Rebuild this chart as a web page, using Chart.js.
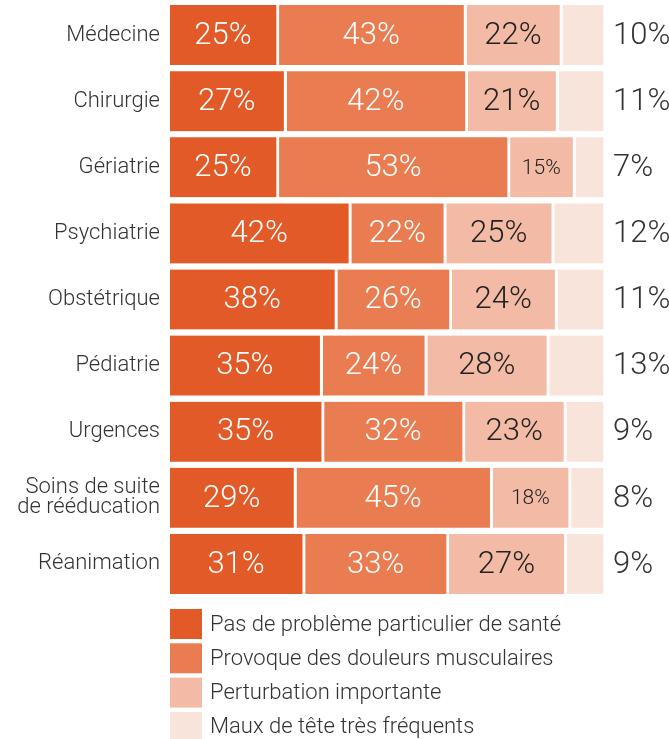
<!DOCTYPE html>
<html lang="fr">
<head>
<meta charset="utf-8">
<title>Santé par service</title>
<script src="https://cdn.jsdelivr.net/npm/chart.js@4/dist/chart.umd.min.js"></script>
<style>
    html, body { margin: 0; padding: 0; background: #fff; }
    canvas { display: block; }
</style>
</head>
<body>
<canvas id="chart" width="669" height="739"></canvas>
<script>
// --- Daten ---
const categories = [
    'Médecine', 'Chirurgie', 'Gériatrie', 'Psychiatrie', 'Obstétrique',
    'Pédiatrie', 'Urgences', ['Soins de suite', 'de rééducation'], 'Réanimation'
];
const seriesNames = [
    'Pas de problème particulier de santé',
    'Provoque des douleurs musculaires',
    'Perturbation importante',
    'Maux de tête très fréquents'
];
const sansProbleme = [25, 27, 25, 42, 38, 35, 35, 29, 31];
const douleurs     = [43, 42, 53, 22, 26, 24, 32, 45, 33];
const perturbation = [22, 21, 15, 25, 24, 28, 23, 18, 27];
const mauxDeTete   = [10, 11, 7, 12, 11, 13, 9, 8, 9];

// --- Farben ---
const colors = ['#e25a27', '#ea7c52', '#f3bba5', '#f9e4dc'];
const labelColors = ['#ffffff', '#ffffff', '#222222', '#333333'];
const FONT = 'Roboto, "Liberation Sans", sans-serif';

const allSeries = [sansProbleme, douleurs, perturbation, mauxDeTete];

// Jede Zeile auf 100 normieren (Summen liegen zwischen 99 und 101)
function rowShares(series) {
    return series.map((v, i) => {
        let total = 0;
        for (let s of allSeries) total += s[i];
        return v / total * 100;
    });
}

const datasets = allSeries.map((s, k) => ({
    label: seriesNames[k],
    data: rowShares(s),
    raw: s,
    backgroundColor: colors[k],
    borderColor: '#ffffff',
    borderWidth: { top: 0, bottom: 0, left: 0, right: 3 },
    borderSkipped: false,
    barThickness: 60
}));

// --- Prozentwerte in / neben die Balken schreiben ---
const valueLabels = {
    id: 'valueLabels',
    afterDatasetsDraw(chart) {
        const ctx = chart.ctx;
        ctx.save();
        ctx.textBaseline = 'middle';
        chart.data.datasets.forEach((ds, k) => {
            const meta = chart.getDatasetMeta(k);
            meta.data.forEach((bar, i) => {
                const v = ds.raw[i];
                let x;
                if (k === 3) {
                    // letzte Reihe steht rechts neben dem Balken
                    ctx.textAlign = 'left';
                    x = chart.chartArea.right + 7;
                } else {
                    ctx.textAlign = 'center';
                    x = (bar.x + bar.base) / 2 - 1.5;
                }
                const size = (k === 2 && v < 20) ? 21 : 31;
                ctx.font = '300 ' + size + 'px ' + FONT;
                ctx.fillStyle = labelColors[k];
                ctx.fillText(v + '%', x, bar.y + 1);
            });
        });
        ctx.restore();
    }
};

// --- Legende unten, vertikal ---
const stackedLegend = {
    id: 'stackedLegend',
    afterDraw(chart) {
        const ctx = chart.ctx;
        const left = chart.chartArea.left;
        ctx.save();
        ctx.font = '300 22px ' + FONT;
        ctx.textAlign = 'left';
        ctx.textBaseline = 'middle';
        chart.data.datasets.forEach((ds, k) => {
            const y = 609 + k * 34.3;
            ctx.fillStyle = ds.backgroundColor;
            ctx.fillRect(left, y, 32, 30);
            ctx.fillStyle = '#333333';
            ctx.fillText(ds.label, left + 40, y + 16);
        });
        ctx.restore();
    }
};

new Chart(document.getElementById('chart'), {
    type: 'bar',
    data: { labels: categories, datasets: datasets },
    plugins: [valueLabels, stackedLegend],
    options: {
        indexAxis: 'y',
        responsive: false,
        animation: false,
        layout: { padding: { top: 2, bottom: 142, left: 0, right: 63 } },
        plugins: {
            legend: { display: false },
            tooltip: { enabled: false }
        },
        scales: {
            x: { stacked: true, min: 0, max: 100, display: false },
            y: {
                stacked: true,
                grid: { display: false, drawTicks: false },
                border: { display: false },
                afterFit(scale) {
                    scale.width = 170;
                    scale.paddingTop = 0;
                    scale.paddingBottom = 0;
                },
                ticks: {
                    color: '#333333',
                    padding: 10,
                    font: { family: FONT, size: 22, weight: '300', lineHeight: 0.92 }
                }
            }
        }
    }
});
</script>
</body>
</html>
